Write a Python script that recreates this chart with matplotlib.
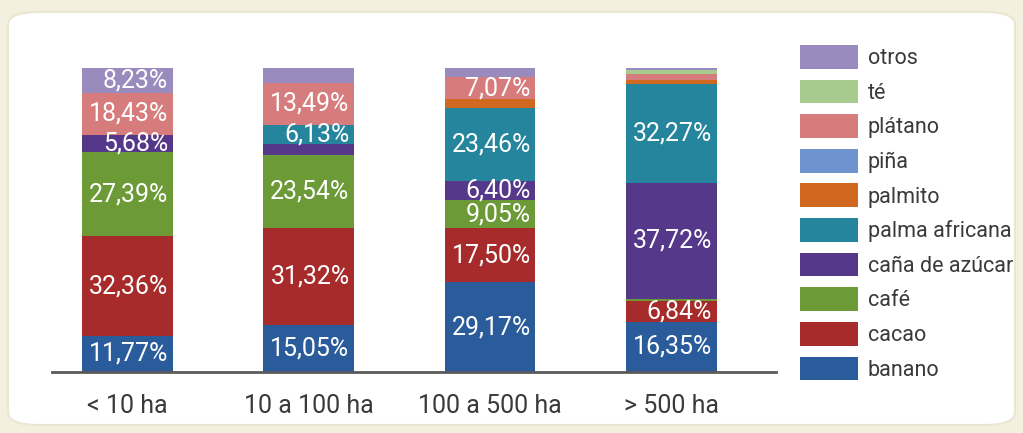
import matplotlib
matplotlib.use('Agg')
import matplotlib.pyplot as plt
from matplotlib.patches import FancyBboxPatch, Patch
import numpy as np

# Datos (porcentaje de superficie por cultivo según tamaño de finca)
categorias = ['< 10 ha', '10 a 100 ha', '100 a 500 ha', '> 500 ha']
cultivos = ['banano', 'cacao', 'café', 'caña de azúcar', 'palma africana',
            'palmito', 'piña', 'plátano', 'té', 'otros']

banano = [11.77, 15.05, 29.17, 16.35]
cacao = [32.36, 31.32, 17.50, 6.84]
cafe = [27.39, 23.54, 9.05, 0.8]
cana = [5.68, 3.8, 6.40, 37.72]
palma = [0.0, 6.13, 23.46, 32.27]
palmito = [0.0, 0.0, 3.0, 1.5]
pina = [0.0, 0.0, 0.0, 0.0]
platano = [13.43, 13.49, 7.07, 2.0]
te = [0.0, 0.0, 0.0, 1.0]
otros = [8.23, 4.8, 3.0, 0.8]

# etiquetas tal como aparecen en el gráfico (None = sin etiqueta)
etiquetas = {
    'banano': ['11,77%', '15,05%', '29,17%', '16,35%'],
    'cacao': ['32,36%', '31,32%', '17,50%', '6,84%'],
    'café': ['27,39%', '23,54%', '9,05%', None],
    'caña de azúcar': ['5,68%', None, '6,40%', '37,72%'],
    'palma africana': [None, '6,13%', '23,46%', '32,27%'],
    'plátano': ['18,43%', '13,49%', '7,07%', None],
    'otros': ['8,23%', None, None, None],
}

colores = ['#2a5b9b', '#a72b2b', '#6b9a36', '#55388a', '#24859d',
           '#d0691f', '#6f93cf', '#d67c7c', '#a7cb8c', '#9a8bbf']

series = [banano, cacao, cafe, cana, palma, palmito, pina, platano, te, otros]
datos = np.array(series)
datos = datos / datos.sum(axis=0) * 100  # cada barra suma 100 %

fig = plt.figure(figsize=(10.23, 4.33), dpi=100)
fig.patch.set_facecolor('#f4f0df')

# panel blanco redondeado
panel = FancyBboxPatch((8 / 1023, 8 / 433), 1007 / 1023, 413 / 433,
                       boxstyle='round,pad=0,rounding_size=0.03',
                       transform=fig.transFigure, facecolor='white',
                       edgecolor='#ebe6d2', linewidth=1.5, zorder=-10)
fig.patches.append(panel)

ax = fig.add_axes([52 / 1023, 1 - 372 / 433, 724 / 1023, 304 / 433])
ax.set_facecolor('none')

x = np.arange(len(categorias))
ancho = 0.5
base = np.zeros(len(categorias))
for nombre, vals, col in zip(cultivos, datos, colores):
    ax.bar(x, vals, ancho, bottom=base, color=col, linewidth=0, label=nombre)
    if nombre in etiquetas:
        for i, txt in enumerate(etiquetas[nombre]):
            if txt:
                ax.text(x[i] + ancho / 2 - 0.025, base[i] + vals[i] / 2, txt,
                        ha='right', va='center', color='white',
                        fontsize=18, family='Roboto')
    base += vals

ax.set_xlim(-0.416, 3.577)
ax.set_ylim(0, 100)
ax.set_yticks([])
ax.set_xticks(x)
ax.set_xticklabels(categorias, fontsize=18, color='#3a3a3a', family='Roboto')
ax.tick_params(axis='x', length=0, pad=16)
for s in ['top', 'right', 'left']:
    ax.spines[s].set_visible(False)
ax.spines['bottom'].set_color('#5a5a5a')
ax.spines['bottom'].set_linewidth(2)

# leyenda (orden inverso, "otros" arriba)
handles = [Patch(facecolor=c, edgecolor='none') for c in colores][::-1]
fig.legend(handles, cultivos[::-1], loc='upper left',
           bbox_to_anchor=(800 / 1023, 1 - 45 / 433),
           frameon=False, prop={'family': 'Roboto', 'size': 15.5},
           handlelength=2.7, handleheight=1.32, handletextpad=0.45,
           labelspacing=0.49, borderpad=0, borderaxespad=0,
           labelcolor='#3a3a3a')

fig.savefig('out.png', dpi=100, facecolor=fig.get_facecolor())
